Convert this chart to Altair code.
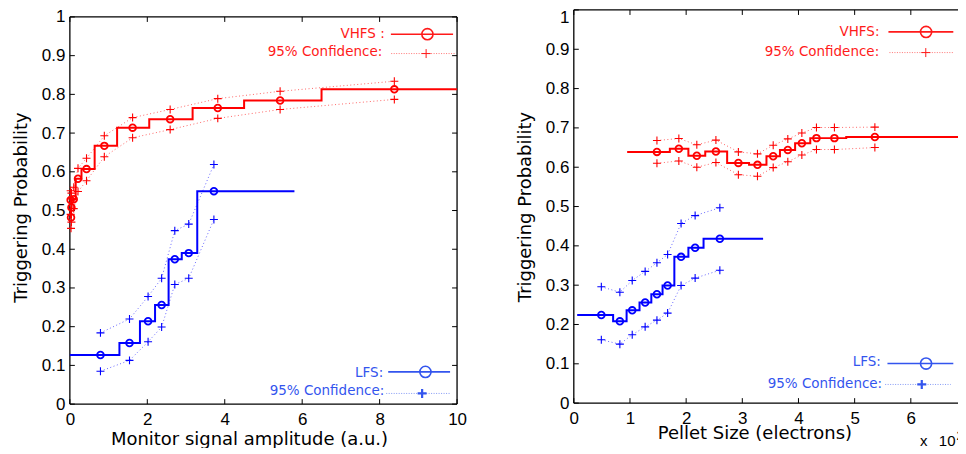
import altair as alt
import pandas as pd

# ---------------- data ----------------
# Left panel: Monitor signal amplitude
L_red_x = [0.03, 0.04, 0.02, 0.10, 0.21, 0.43, 0.89, 1.62, 2.59, 3.82, 5.43, 8.38]
L_red_p = [0.482, 0.508, 0.527, 0.529, 0.582, 0.607, 0.667, 0.714, 0.736, 0.765, 0.784, 0.813]
L_red_hi = [0.530, 0.545, 0.551, 0.560, 0.609, 0.635, 0.693, 0.740, 0.761, 0.789, 0.808, 0.834]
L_red_lo = [0.454, 0.470, 0.490, 0.505, 0.549, 0.577, 0.639, 0.688, 0.709, 0.738, 0.761, 0.787]
L_red_edges = [0.0, 0.03, 0.045, 0.06, 0.15, 0.30, 0.64, 1.22, 2.05, 3.17, 4.50, 6.50, 10.0]

L_blue_x = [0.79, 1.54, 2.02, 2.37, 2.71, 3.07, 3.72]
L_blue_p = [0.127, 0.158, 0.214, 0.256, 0.374, 0.390, 0.550]
L_blue_hi = [0.184, 0.220, 0.278, 0.325, 0.448, 0.465, 0.619]
L_blue_lo = [0.085, 0.113, 0.161, 0.199, 0.309, 0.325, 0.477]
L_blue_edges = [0.0, 1.28, 1.81, 2.20, 2.55, 2.89, 3.29, 5.80]

# Right panel: Pellet size (x 1e20 electrons)
R_red_x = [1.48, 1.87, 2.19, 2.53, 2.93, 3.27, 3.55, 3.81, 4.06, 4.32, 4.64, 5.36]
R_red_p = [0.639, 0.647, 0.629, 0.640, 0.611, 0.606, 0.628, 0.644, 0.661, 0.674, 0.674, 0.677]
R_red_hi = [0.668, 0.673, 0.657, 0.669, 0.639, 0.634, 0.656, 0.672, 0.687, 0.701, 0.701, 0.702]
R_red_lo = [0.610, 0.616, 0.600, 0.612, 0.581, 0.577, 0.599, 0.614, 0.631, 0.645, 0.645, 0.650]
R_red_edges = [0.95, 1.71, 2.04, 2.34, 2.73, 3.12, 3.43, 3.67, 3.94, 4.21, 4.48, 4.85, 7.0]

R_blue_x = [0.49, 0.82, 1.04, 1.27, 1.48, 1.67, 1.91, 2.16, 2.60]
R_blue_p = [0.224, 0.208, 0.236, 0.256, 0.277, 0.299, 0.372, 0.395, 0.418]
R_blue_hi = [0.296, 0.282, 0.312, 0.335, 0.357, 0.378, 0.457, 0.477, 0.497]
R_blue_lo = [0.161, 0.150, 0.174, 0.194, 0.211, 0.229, 0.299, 0.318, 0.338]
R_blue_edges = [0.06, 0.70, 0.94, 1.17, 1.38, 1.58, 1.79, 2.04, 2.31, 3.37]

L_xticks = [0, 2, 4, 6, 8, 10]
R_xticks = [0, 1, 2, 3, 4, 5, 6, 7]
yticks = [0, 0.1, 0.2, 0.3, 0.4, 0.5, 0.6, 0.7, 0.8, 0.9, 1]

# ---------------- style ----------------
RED = "#ff0000"
BLUE = "#0000ff"
LRED = "#ff1a1a"
LBLUE = "#3355ee"
FONT_T = "DejaVu Sans"
FONT_N = "Liberation Sans"
PLUS = "M-1,0H1M0,-1V1"

LW, LH = 388, 395
RW, RH = 394, 394


def make_panel(W, H, xmax, ymax, xticks, xtitle, titleX, titleY, red, blue, legend, top_flush):
    xscale = alt.Scale(domain=[0, xmax], nice=False, zero=False)
    yscale = alt.Scale(domain=[0, ymax], nice=False, zero=False)
    xaxis = alt.Axis(values=xticks, format="d", title=xtitle, ticks=False, tickSize=0,
                     domain=False, grid=False, labelFont=FONT_N, labelFontSize=17,
                     labelPadding=7, labelFlush=False, labelOverlap=False, labelColor="black",
                     titleFont=FONT_T, titleFontSize=18, titleFontWeight="normal",
                     titleColor="black", titleX=titleX, titleY=titleY,
                     titleBaseline="alphabetic")
    ybase = dict(values=yticks, format="~g", title="Triggering Probability", ticks=False,
                 tickSize=0, domain=False, grid=False, labelFont=FONT_N, labelFontSize=17,
                 labelPadding=5, labelFlush=False, labelOverlap=False, labelColor="black",
                 titleFont=FONT_T, titleFontSize=18, titleFontWeight="normal",
                 titleColor="black", titlePadding=11)
    if top_flush:
        ybase["labelBaseline"] = {"condition": {"test": "datum.value == 1", "value": "top"},
                                  "value": "middle"}
    yaxis = alt.Axis(**ybase)

    def X(f):
        return alt.X(f, type="quantitative", scale=xscale, axis=xaxis)

    def Y(f):
        return alt.Y(f, type="quantitative", scale=yscale, axis=yaxis)

    layers = []
    # frame (box)
    frame = pd.DataFrame({"x": [0, 0, 0, xmax], "x2": [xmax, xmax, 0, xmax],
                          "y": [0, 1, 0, 0], "y2": [0, 1, 1, 1]})
    layers.append(alt.Chart(frame).mark_rule(color="black", strokeWidth=1.3)
                  .encode(x=X("x"), x2="x2", y=Y("y"), y2="y2"))
    # inward ticks
    xl = 5 * xmax / W
    yl = 5 * ymax / H
    rows = []
    for t in xticks:
        rows.append(dict(x=t, x2=t, y=0, y2=yl))
        rows.append(dict(x=t, x2=t, y=1, y2=1 - yl))
    for t in yticks:
        rows.append(dict(x=0, x2=xl, y=t, y2=t))
        rows.append(dict(x=xmax, x2=xmax - xl, y=t, y2=t))
    layers.append(alt.Chart(pd.DataFrame(rows)).mark_rule(color="black", strokeWidth=1)
                  .encode(x=X("x"), x2="x2", y=Y("y"), y2="y2"))

    for (xs, ps, his, los, edges, col) in (red, blue):
        step = pd.DataFrame({"x": edges, "y": ps + [ps[-1]]})
        layers.append(alt.Chart(step).mark_line(color=col, strokeWidth=2,
                                                interpolate="step-after")
                      .encode(x=X("x"), y=Y("y")))
        for arr in (his, los):
            d = pd.DataFrame({"x": xs, "y": arr, "i": list(range(len(xs)))})
            layers.append(alt.Chart(d).mark_line(color=col, strokeWidth=1, opacity=0.6,
                                                 strokeDash=[1, 2.5])
                          .encode(x=X("x"), y=Y("y"), order="i:Q"))
            layers.append(alt.Chart(d).mark_point(shape=PLUS, size=64, strokeWidth=1.1,
                                                  filled=False, color=col, opacity=1)
                          .encode(x=X("x"), y=Y("y")))
        d = pd.DataFrame({"x": xs, "y": ps})
        layers.append(alt.Chart(d).mark_point(shape="circle", size=45, strokeWidth=1.8,
                                              filled=False, color=col, opacity=1)
                      .encode(x=X("x"), y=Y("y")))

    one = pd.DataFrame({"a": [0]})
    for item in legend:
        (label, tx, ty, lx1, lx2, ly, mx, col, kind, mw) = item
        layers.append(alt.Chart(one).mark_text(text=label, align="right", baseline="alphabetic",
                                               font=FONT_T, fontSize=13.5, color=col)
                      .encode(x=alt.value(tx), y=alt.value(ty)))
        if kind == "line":
            layers.append(alt.Chart(one).mark_rule(color=col, strokeWidth=1.6)
                          .encode(x=alt.value(lx1), x2=alt.value(lx2), y=alt.value(ly)))
            layers.append(alt.Chart(one).mark_point(shape="circle", size=125, strokeWidth=1.6,
                                                    filled=False, color=col, opacity=1)
                          .encode(x=alt.value(mx), y=alt.value(ly)))
        else:
            layers.append(alt.Chart(one).mark_rule(color=col, strokeWidth=1, opacity=0.6,
                                                   strokeDash=[1, 1.5])
                          .encode(x=alt.value(lx1), x2=alt.value(lx2), y=alt.value(ly)))
            layers.append(alt.Chart(one).mark_point(shape=PLUS, size=81, strokeWidth=mw,
                                                    filled=False, color=col, opacity=1)
                          .encode(x=alt.value(mx), y=alt.value(ly)))
    return layers


left_legend = [
    ("VHFS :", 315.5, 28, 321.7, 384, 24.3, 358.3, LRED, "line", 1),
    ("95% Confidence:", 313, 46.3, 322, 386, 43.7, 357, LRED, "dot", 1),
    ("LFS:", 314, 368, 319, 381, 362.7, 356.3, LBLUE, "line", 1),
    ("95% Confidence:", 315, 386, 317, 381, 384.3, 353, LBLUE, "dot", 2.2),
]
right_legend = [
    ("VHFS:", 306.3, 26.3, 315.3, 380.3, 22, 353, LRED, "line", 1),
    ("95% Confidence:", 306, 46.3, 316.3, 381, 42.7, 352.7, LRED, "dot", 1),
    ("LFS:", 307.7, 357, 314.3, 380.3, 354.3, 353, LBLUE, "line", 1),
    ("95% Confidence:", 309, 378.7, 312, 377.7, 375.3, 348.7, LBLUE, "dot", 2.2),
]

left_layers = make_panel(LW, LH, 10, LH / 388, L_xticks, "Monitor signal amplitude (a.u.)",
                         179.5, 40,
                         (L_red_x, L_red_p, L_red_hi, L_red_lo, L_red_edges, RED),
                         (L_blue_x, L_blue_p, L_blue_hi, L_blue_lo, L_blue_edges, BLUE),
                         left_legend, False)
right_layers = make_panel(RW, RH, 7, 1.0, R_xticks, "Pellet Size (electrons)",
                          181, 35.5,
                          (R_red_x, R_red_p, R_red_hi, R_red_lo, R_red_edges, RED),
                          (R_blue_x, R_blue_p, R_blue_hi, R_blue_lo, R_blue_edges, BLUE),
                          right_legend, True)

one = pd.DataFrame({"a": [0]})
right_layers.append(alt.Chart(one).mark_text(text="x", align="left", baseline="alphabetic",
                                             font=FONT_N, fontSize=15, color="black")
                    .encode(x=alt.value(347), y=alt.value(436.5)))
right_layers.append(alt.Chart(one).mark_text(text="10", align="right", baseline="alphabetic",
                                             font=FONT_N, fontSize=15, color="black")
                    .encode(x=alt.value(382.5), y=alt.value(436.5)))
right_layers.append(alt.Chart(one).mark_text(text="20", align="left", baseline="alphabetic",
                                             font=FONT_N, fontSize=12, color="black")
                    .encode(x=alt.value(383.5), y=alt.value(430.5)))

left = alt.layer(*left_layers).properties(width=LW, height=LH)
right = alt.layer(*right_layers).properties(width=RW, height=RH)

chart = (alt.hconcat(left, right, spacing=49)
         .properties(padding={"left": 4, "top": -1.5, "right": -14, "bottom": -1.8})
         .configure_view(stroke=None))

chart.save("out.html", embed_options={"renderer": "svg", "actions": False})
